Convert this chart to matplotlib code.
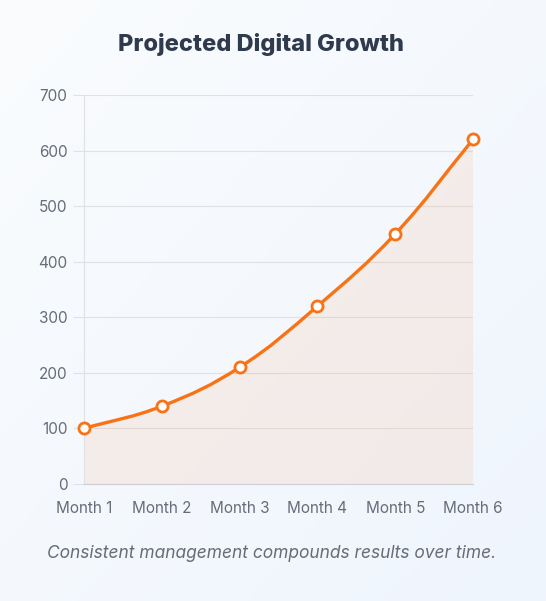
import numpy as np
import matplotlib
matplotlib.use("Agg")
import matplotlib.pyplot as plt
from matplotlib.path import Path
from matplotlib.patches import PathPatch
from matplotlib.colors import LinearSegmentedColormap

months = ["Month 1", "Month 2", "Month 3", "Month 4", "Month 5", "Month 6"]
growth = [100, 140, 210, 320, 450, 620]
y_ticks = [0, 100, 200, 300, 400, 500, 600, 700]
title = "Projected Digital Growth"
caption = "Consistent management compounds results over time."

plt.rcParams['font.family'] = ['Inter', 'DejaVu Sans']

W, H = 546, 601
fig = plt.figure(figsize=(W / 100, H / 100), dpi=100)

# background gradient
bg = fig.add_axes([0, 0, 1, 1], zorder=-10)
gx, gy = np.meshgrid(np.linspace(0, 1, 200), np.linspace(0, 1, 200))
g = (gx + gy) / 2
cmap = LinearSegmentedColormap.from_list("bg", ["#fafcfd", "#eff5fe"])
bg.imshow(g, cmap=cmap, aspect="auto", extent=[0, 1, 0, 1], origin="upper")
bg.axis("off")

ax = fig.add_axes([84 / W, (H - 484) / H, (473 - 84) / W, (484 - 95) / H])
ax.set_facecolor("none")
x = np.arange(len(months))
ax.set_xlim(0, len(months) - 1)
ax.set_ylim(0, 700)
fig.canvas.draw()

# Chart.js style spline (tension 0.4) in pixel space
pts = ax.transData.transform(np.column_stack([x, growth]))
n = len(pts)
t = 0.4
cp_prev = np.zeros_like(pts)
cp_next = np.zeros_like(pts)
for i in range(n):
    prev = pts[i - 1] if i > 0 else pts[i]
    cur = pts[i]
    nxt = pts[i + 1] if i < n - 1 else pts[i]
    d01 = np.hypot(*(cur - prev))
    d12 = np.hypot(*(nxt - cur))
    tot = d01 + d12
    s01 = d01 / tot if tot else 0
    s12 = d12 / tot if tot else 0
    cp_prev[i] = cur - t * s01 * (nxt - prev)
    cp_next[i] = cur + t * s12 * (nxt - prev)
verts = [pts[0]]
codes = [Path.MOVETO]
for i in range(n - 1):
    verts += [cp_next[i], cp_prev[i + 1], pts[i + 1]]
    codes += [Path.CURVE4] * 3
inv = ax.transData.inverted()
verts_d = inv.transform(np.array(verts))

line_path = Path(verts_d, codes)
fill_verts = list(verts_d) + [[x[-1], 0], [x[0], 0], verts_d[0]]
fill_codes = codes + [Path.LINETO, Path.LINETO, Path.CLOSEPOLY]
ax.add_patch(PathPatch(Path(fill_verts, fill_codes), facecolor="#f58a3c", alpha=0.1,
                       edgecolor="none", zorder=1))
ax.add_patch(PathPatch(line_path, facecolor="none", edgecolor="#f97316", lw=2.4,
                       zorder=3, capstyle="round", joinstyle="round"))
ax.plot(x, growth, linestyle="none", marker="o", ms=8, mfc="white", mec="#f97316",
        mew=2, zorder=4, clip_on=False)

ax.set_xticks(x)
ax.set_xticklabels(months)
ax.set_yticks(y_ticks)
ax.tick_params(axis="x", length=0, pad=12, labelsize=11, colors="#666d78")
ax.tick_params(axis="y", length=8, width=0.8, color="#e1e1e3", pad=4, labelsize=11,
               colors="#666d78")
ax.grid(axis="y", color="#e1e1e3", lw=0.8, zorder=0)
for s in ["top", "right"]:
    ax.spines[s].set_visible(False)
ax.spines["left"].set_color("#e1e1e3")
ax.spines["left"].set_linewidth(0.8)
ax.spines["bottom"].set_color("#cfcfd3")
ax.spines["bottom"].set_linewidth(0.8)
ax.set_axisbelow(True)

fig.text(261 / W, 1 - 44 / H, title, ha="center", va="center", fontsize=17,
         fontweight="heavy", color="#2f3a4c")
fig.text(272 / W, 1 - 553 / H, caption, ha="center", va="center", fontsize=12.5,
         fontstyle="italic", color="#666d78")

fig.savefig("out.png", dpi=100)
